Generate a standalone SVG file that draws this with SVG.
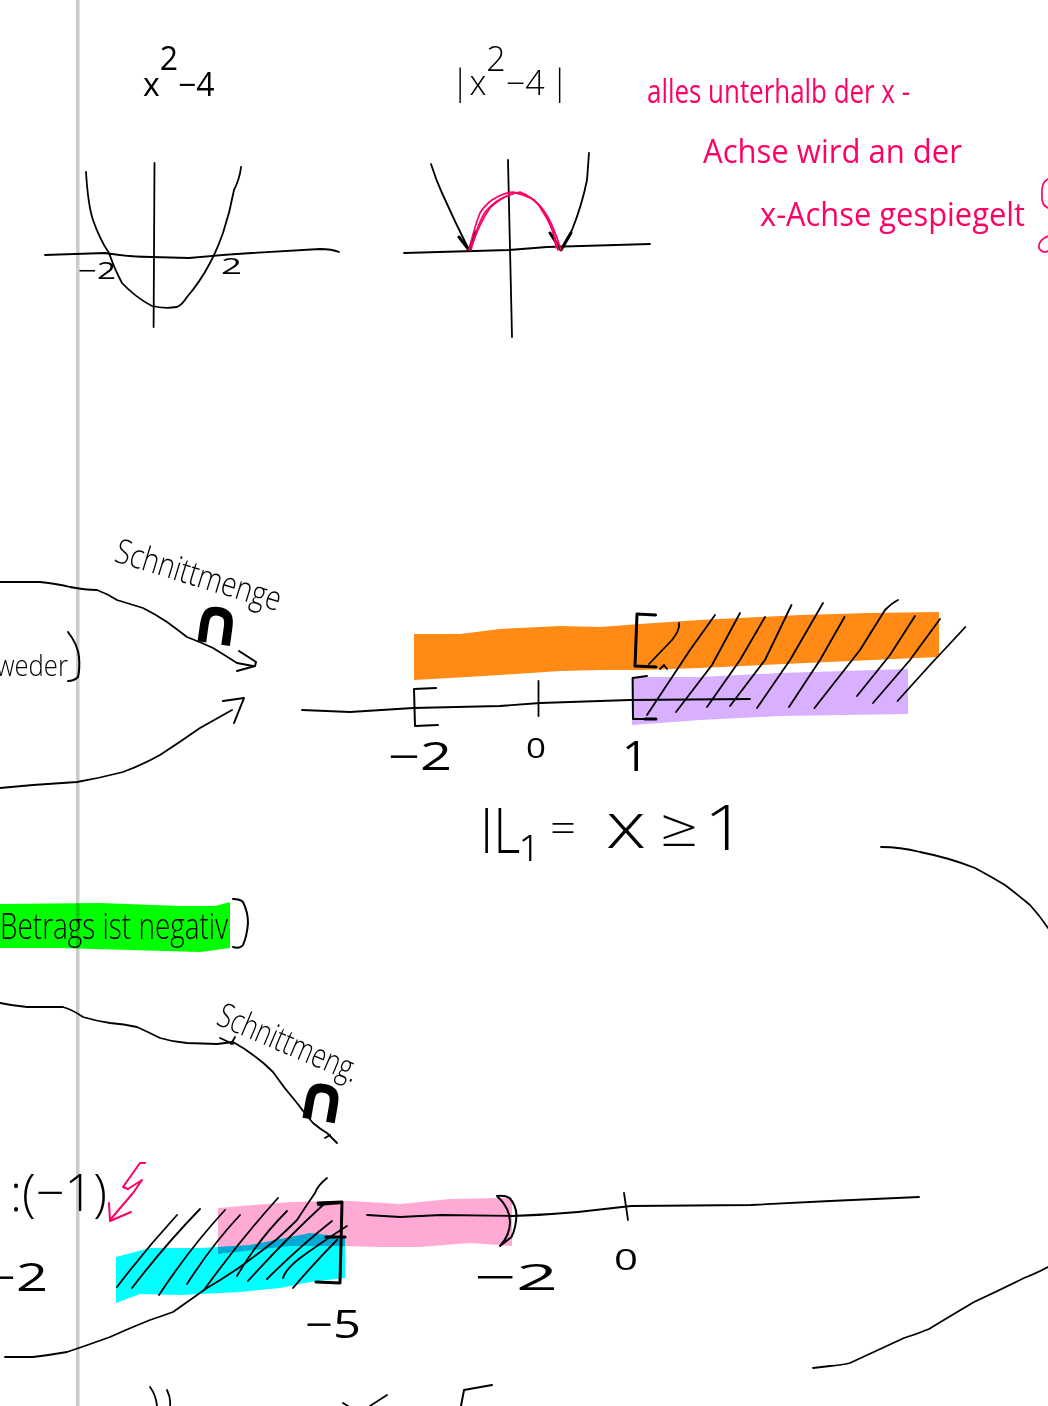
<svg xmlns="http://www.w3.org/2000/svg" width="1048" height="1406" viewBox="0 0 1048 1406">
<style>
.s{fill:none;stroke:#000;stroke-width:1.8;stroke-linecap:round;stroke-linejoin:round}
.b{fill:none;stroke:#000;stroke-width:3;stroke-linecap:round;stroke-linejoin:round}
.p{fill:none;stroke:#ff0066;stroke-width:1.7;stroke-linecap:round;stroke-linejoin:round}
.m{mix-blend-mode:multiply}
text{font-family:"Open Sans","Liberation Sans",sans-serif;font-weight:300;fill:#000}
.n{font-weight:400}
.h{fill:#ff0066;font-size:32px;font-weight:400}
.cap{font-family:"DejaVu Sans",sans-serif;font-weight:700;font-size:64px}
</style>
<rect width="1048" height="1406" fill="#fff"/>
<g id="highlights">
<path class="m" fill="#ff8a16" d="M414 634L460 634L500 629L560 626L600 627L640 624L700 620L800 615L870 613L939 612L939 657L850 661L700 668L640 670L600 670L560 671L500 675L450 678L414 680Z"/>
<path class="m" fill="#d8b0ff" d="M632 677L700 677L780 673L908 669L908 714L780 716L700 720L632 725Z"/>
<path class="m" fill="#00ff00" d="M0 904L100 903L180 906L215 906L230 902L230 948L200 952L130 950L60 948L0 948Z"/>
<path class="m" fill="#ffaad4" d="M218 1208L290 1202L350 1201L400 1204L450 1199L500 1198L512 1198L512 1246L470 1243L420 1247L380 1247L340 1246L290 1246L218 1254Z"/>
<path class="m" fill="#00ffff" d="M116 1257L150 1248L200 1248L250 1245L310 1233L345 1237L345 1278L310 1282L280 1288L240 1292L180 1295L140 1294L116 1303Z"/>
</g>
<rect id="margin-line" class="m" x="76" y="0" width="3.500" height="1406" fill="#cccccc"/>
<g id="graph-1">
<path class="s" d="M86 172Q88 205 93 220Q100 240 109 253Q115 270 122 283Q135 297 152 306Q164 309 177 307Q182 305 187 297Q200 282 210 263Q217 250 223 233Q230 212 234 190Q240 178 241 167"/>
<path class="s" d="M154.500 163L153.600 327"/>
<path class="s" d="M45 255L105 253Q130 257 151.500 257L189 258Q220 255 252 253L320 249Q332 249 339 252"/>
<text class="n" x="143" y="96" font-size="32">x<tspan dy="-26">2</tspan><tspan dy="26">−4</tspan></text>
</g>
<g id="graph-2">
<path class="s" d="M404 253L509 250L547 247L650 244"/>
<path class="s" d="M508 160L512 337"/>
<path class="s" d="M431 164Q436 180 442 193Q455 222 469 250"/>
<path class="s" d="M589 153L587 180Q582 205 572 230Q566 240 561 250"/>
<path class="b" d="M459 237L469 250L476 232M550 233L561 250L571 233"/>
<path class="p" d="M469 250Q475 225 480 213Q485 205 492 200Q503 193 513 192Q525 194 534 200Q545 210 551 223Q557 236 561 250"/>
<path class="p" d="M471 250Q478 222 486 211Q497 198 515 193Q532 196 541 207Q552 222 558 250"/>
<path class="p" d="M472 245Q480 222 490 208Q503 195 520 192Q535 197 543 212Q555 230 556 248"/>
</g>
<g id="labels-top">
<text class="n" x="78" y="279" font-size="24" textLength="38" lengthAdjust="spacingAndGlyphs">−2</text>
<text class="n" x="221" y="274" font-size="22" textLength="21" lengthAdjust="spacingAndGlyphs">2</text>
<text x="451" y="95" font-size="34">|x<tspan dy="-24">2</tspan><tspan dy="24">−4</tspan><tspan dx="6">|</tspan></text>
</g>
<g id="note">
<text class="h" x="647" y="103" textLength="263" lengthAdjust="spacingAndGlyphs">alles unterhalb der x -</text>
<text class="h" x="703" y="163" textLength="259" lengthAdjust="spacingAndGlyphs">Achse wird an der</text>
<text class="h" x="760" y="226" textLength="265" lengthAdjust="spacingAndGlyphs">x-Achse gespiegelt</text>
<path class="p" d="M1048 179Q1041 182 1042 195Q1041 205 1048 208M1048 236Q1038 240 1039 248Q1042 254 1048 251"/>
</g>
<g id="number-line-1">
<path class="s" d="M302 710L350 712L413 708L500 706L540 703L630 700L750 699"/>
<path class="s" style="stroke-width:2" d="M436 688L414 689L415 726L438 725"/>
<path class="s" d="M538.500 681L538.500 716"/>
<path class="s" style="stroke-width:2" d="M647 676L632.600 678L633 719L645 719"/>
<path class="b" d="M645 719L656 719"/>
<path class="b" d="M655.600 615L637 614L635 666L656 667"/>
<path class="s" d="M649 664L672 640Q680 630 679 623"/>
<path class="s" d="M660 669L664 665L667 669"/>
<path class="s" d="M647 715L690 650L715 615"/>
<path class="s" d="M676 712L712 665L740 613"/>
<path class="s" d="M707 707L740 660L765 617"/>
<path class="s" d="M730 706L765 660L791.500 605"/>
<path class="s" d="M757 708L790 660L823 603"/>
<path class="s" d="M789 707L820 660L844.500 617"/>
<path class="s" d="M814.500 708L860 650L885 610Q892 603 898 600"/>
<path class="s" d="M857 696L890 655L915 616"/>
<path class="s" d="M873 703L910 660L940 619"/>
<path class="s" d="M897.500 701L930 665L965.400 627"/>
<text class="n" x="388" y="770" font-size="38" textLength="64" lengthAdjust="spacingAndGlyphs">−2</text>
<text class="n" x="526" y="758" font-size="27" textLength="20" lengthAdjust="spacingAndGlyphs">0</text>
<text class="n" x="622" y="771" font-size="42" textLength="26" lengthAdjust="spacingAndGlyphs">1</text>
<text x="480" y="853" font-size="62" textLength="58" lengthAdjust="spacingAndGlyphs">IL₁</text>
<text x="550" y="842" font-size="40" textLength="26" lengthAdjust="spacingAndGlyphs">=</text>
<text x="606" y="848" font-size="64" textLength="40" lengthAdjust="spacingAndGlyphs">x</text>
<text x="660" y="846" font-size="52" textLength="38" lengthAdjust="spacingAndGlyphs">≥</text>
<text x="704" y="850" font-size="62" textLength="42" lengthAdjust="spacingAndGlyphs">1</text>
</g>
<g id="connectors">
<path class="s" d="M0 582L40 582Q58 584 70 587Q85 590 97 590Q108 594 117 600Q130 604 143 608Q155 614 167 622Q178 630 187 637Q200 642 213 648Q226 656 237 663L253 666"/>
<path class="s" style="stroke-width:2" d="M239 651L256 662L255 666L237 671"/>
<path class="s" d="M0 788L33 785L77 782Q100 778 123 772Q142 765 160 755Q180 742 200 728Q216 719 232 710"/>
<path class="s" style="stroke-width:2" d="M223 701L244 698L234 723"/>
<path class="s" d="M881 847Q900 847 920 852Q950 858 975 868Q990 876 1005 885Q1018 895 1030 905Q1040 916 1048 928"/>
<path class="s" d="M0 1003Q14 1006 27 1007L63 1007Q73 1010 83 1017Q96 1021 110 1023Q124 1024 137 1027Q148 1032 160 1038Q173 1042 187 1043L217 1044L233 1042Q244 1048 253 1055Q264 1063 273 1072Q284 1088 297 1103Q305 1114 313 1123Q320 1129 327 1133L337 1143"/>
<path class="s" d="M220 1038L233 1044M235 1037L231 1044M325 1138L330 1135"/>
<path class="s" d="M5 1357L33 1357Q50 1355 67 1352Q88 1345 110 1337Q130 1328 150 1320Q162 1316 173 1312Q190 1300 207 1288Q224 1278 240 1267Q258 1254 277 1239Q287 1230 297 1220Q306 1206 315 1193Q318 1185 327 1178"/>
<path class="s" d="M813 1368L830 1366Q842 1365 850 1363Q878 1350 904 1338Q917 1334 929 1329Q952 1315 974 1302Q1000 1290 1024 1278Q1037 1273 1048 1267"/>
</g>
<g id="schnittmenge-1">
<text transform="translate(113 561) rotate(17)" font-size="34" textLength="172" lengthAdjust="spacingAndGlyphs">Schnittmenge</text>
<text class="cap" transform="translate(188 640) rotate(8)">∩</text>
</g>
<g id="line-weder">
<text x="-42" y="676" font-size="30" textLength="110" lengthAdjust="spacingAndGlyphs">entweder</text>
<path class="s" style="stroke-width:2" d="M68 632Q78 645 79 657Q80 668 78 677Q74 681 68 681"/>
</g>
<g id="line-betrag">
<text x="0" y="939" font-size="37" textLength="228" lengthAdjust="spacingAndGlyphs">Betrags ist negativ</text>
<path class="s" style="stroke-width:2" d="M233 899Q240 899 243 902Q248 912 248 923Q247 936 243 945Q240 949 233 947"/>
</g>
<g id="schnittmenge-2">
<text transform="translate(215 1024) rotate(23)" font-size="34" textLength="150" lengthAdjust="spacingAndGlyphs">Schnittmeng.</text>
<text class="cap" transform="translate(293 1116) rotate(10)">∩</text>
</g>
<g id="number-line-2">
<path class="s" d="M367 1215L400 1217L441 1215L512 1216Q545 1215 578 1212L631 1206L751 1205L830 1201L919 1197"/>
<path class="s" d="M624 1193L628 1220"/>
<path class="s" style="stroke-width:2" d="M497 1196Q505 1195 509.500 1198Q516 1205 516.500 1215Q516 1228 511.500 1237L500 1246Q510 1235 510 1222Q510 1208 497 1196"/>
<path class="s" d="M117 1287Q145 1250 177 1215"/>
<path class="s" d="M132 1288Q165 1245 200 1209"/>
<path class="s" d="M159 1295Q190 1248 225 1210"/>
<path class="s" d="M187 1284Q212 1245 240 1215"/>
<path class="s" d="M204 1290Q240 1240 278 1198"/>
<path class="s" d="M237 1276Q258 1240 287 1211"/>
<path class="s" d="M248 1281Q285 1240 323 1205"/>
<path class="s" d="M267 1279Q298 1248 332 1221"/>
<path class="s" d="M283 1278Q285 1270 300 1258Q325 1240 347 1226"/>
<path class="s" d="M293 1288Q315 1262 337 1240"/>
<path class="b" d="M318 1203L342 1202L340 1283L316 1282M326 1237L345 1237"/>
<path class="s" d="M318 1205L342 1203"/>
<text class="n" x="305" y="1338" font-size="38" textLength="56" lengthAdjust="spacingAndGlyphs">−5</text>
<text class="n" x="474" y="1290" font-size="36" textLength="84" lengthAdjust="spacingAndGlyphs">−2</text>
<text class="n" x="614" y="1270" font-size="30" textLength="24" lengthAdjust="spacingAndGlyphs">0</text>
<text class="n" x="-16" y="1291" font-size="38" textLength="64" lengthAdjust="spacingAndGlyphs">−2</text>
<text x="10" y="1211" font-size="52" textLength="97" lengthAdjust="spacingAndGlyphs">:(−1)</text>
<path class="p" style="stroke-width:2" d="M145 1163L140 1163L123 1187L128 1189L142 1180L133 1193L110 1220M109 1203L110 1221L131 1212"/>
</g>
<g id="bottom-fragments">
<path class="s" d="M150 1387Q156 1395 157 1406M167 1390Q171 1398 170 1406"/>
<path class="s" d="M343 1403L348 1406M387 1395L370 1406"/>
<path class="s" style="stroke-width:2" d="M492 1385L464 1390L461 1406"/>
</g>
</svg>
